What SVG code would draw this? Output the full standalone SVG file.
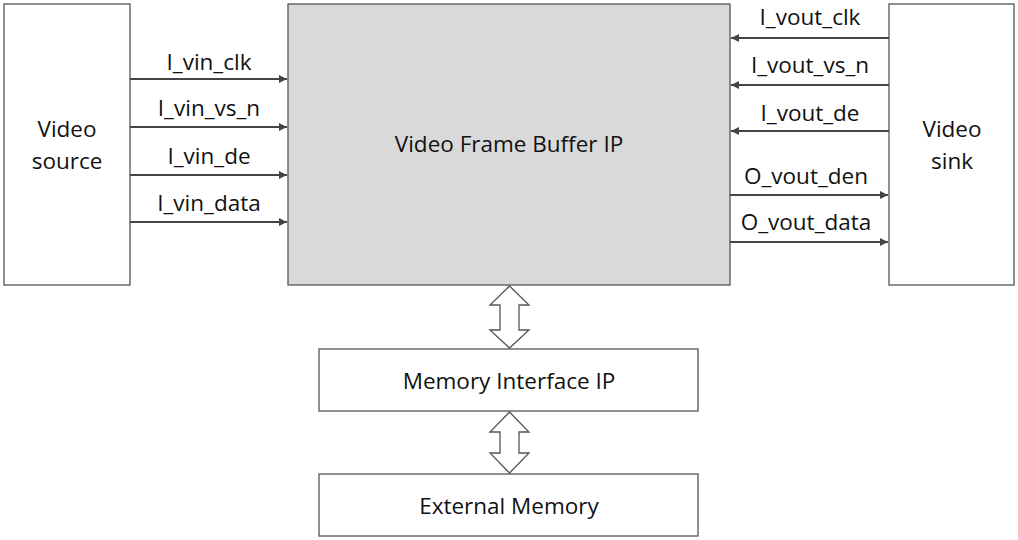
<svg xmlns="http://www.w3.org/2000/svg" width="1018" height="540" viewBox="0 0 1018 540">
<style>
.b{fill:#fff;stroke:#555;stroke-width:1.3}
.t{font-family:"Open Sans","Liberation Sans",sans-serif;font-size:22.5px;fill:#111;text-anchor:middle}
.l{stroke:#444;stroke-width:2;marker-end:url(#a)}
.d{fill:#fff;stroke:#555;stroke-width:1.3}
</style>
<defs><marker id="a" viewBox="0 0 10 10" refX="10" refY="5" markerWidth="9" markerHeight="8" orient="auto" markerUnits="userSpaceOnUse"><path d="M0,0L10,5L0,10z" fill="#444"/></marker></defs>
<rect width="1018" height="540" fill="#fff"/>
<g id="src"><rect class="b" x="4" y="4" width="126" height="281"/><text class="t" x="67" y="137">Video</text><text class="t" x="67" y="169">source</text></g>
<g id="fb"><rect class="b" x="288" y="4" width="442" height="281" style="fill:#d9d9d9"/><text class="t" x="509" y="152">Video Frame Buffer IP</text></g>
<g id="sink"><rect class="b" x="889" y="4" width="125" height="281"/><text class="t" x="952" y="137">Video</text><text class="t" x="952" y="169">sink</text></g>
<g id="mif"><rect class="b" x="319" y="349" width="379" height="62"/><text class="t" x="509" y="389">Memory Interface IP</text></g>
<g id="ext"><rect class="b" x="319" y="474" width="379" height="62"/><text class="t" x="509" y="514">External Memory</text></g>
<g id="connectors">
<line class="l" x1="130" y1="79" x2="287" y2="79"/>
<line class="l" x1="130" y1="127" x2="287" y2="127"/>
<line class="l" x1="130" y1="175" x2="287" y2="175"/>
<line class="l" x1="130" y1="222" x2="287" y2="222"/>
<line class="l" x1="889" y1="38" x2="731" y2="38"/>
<line class="l" x1="889" y1="85" x2="731" y2="85"/>
<line class="l" x1="889" y1="131" x2="731" y2="131"/>
<line class="l" x1="730" y1="195" x2="888" y2="195"/>
<line class="l" x1="730" y1="242" x2="888" y2="242"/>
<path class="d" d="M509.5,286L529,305H519V330H529L509.5,348L490,330H500V305H490Z"/>
<path class="d" d="M509.5,412L529,432H519V453H529L509.5,473L490,453H500V432H490Z"/>
</g>
<g id="labels">
<text class="t" x="209" y="70">I_vin_clk</text>
<text class="t" x="209" y="116">I_vin_vs_n</text>
<text class="t" x="209" y="164">I_vin_de</text>
<text class="t" x="209" y="211">I_vin_data</text>
<text class="t" x="810" y="25">I_vout_clk</text>
<text class="t" x="810" y="73">I_vout_vs_n</text>
<text class="t" x="810" y="121">I_vout_de</text>
<text class="t" x="806" y="184">O_vout_den</text>
<text class="t" x="806" y="230">O_vout_data</text>
</g>
</svg>
